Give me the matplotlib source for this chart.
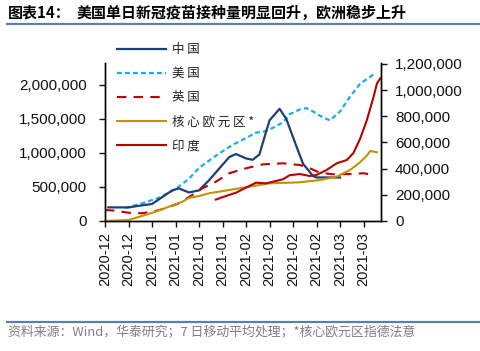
import matplotlib
matplotlib.use("Agg")
import matplotlib.pyplot as plt
import matplotlib.dates as mdates
from matplotlib.lines import Line2D
import pandas as pd

plt.rcParams['font.family'] = ['Liberation Sans', 'Noto Sans CJK SC', 'DejaVu Sans']
cjk = ['Noto Sans CJK SC', 'DejaVu Sans']

start = pd.Timestamp('2020-12-21')

# days after 2020-12-21, 7-day averages
china_day = [1, 7, 11, 14, 17, 20, 22, 25, 28, 31, 34, 37, 39, 42, 44, 46, 47, 49, 52, 54, 57, 59, 62, 63, 70]
china_val = [200000, 200000, 230000, 250000, 350000, 450000, 480000, 420000, 450000, 600000, 770000, 940000,
             985000, 920000, 900000, 980000, 1150000, 1480000, 1650000, 1500000, 1100000, 840000, 660000,
             640000, 640000]

us_day = [6, 11, 16, 21, 25, 28, 33, 38, 42, 45, 47, 50, 53, 55, 58, 60, 62, 65, 67, 70, 73, 76, 79, 80]
us_val = [190000, 260000, 340000, 470000, 620000, 780000, 960000, 1120000, 1220000, 1300000, 1310000,
          1370000, 1450000, 1570000, 1640000, 1660000, 1610000, 1520000, 1480000, 1610000, 1830000,
          2020000, 2120000, 2160000]

uk_day = [0, 3, 7, 11, 15, 18, 22, 26, 29, 33, 37, 42, 47, 53, 58, 61, 64, 68, 73, 77, 80]
uk_val = [84000, 79000, 63000, 59000, 76000, 97000, 135000, 199000, 250000, 300000, 365000, 403000,
          433000, 441000, 428000, 403000, 369000, 357000, 359000, 365000, 352000]

eu_day = [0, 7, 11, 15, 19, 23, 25, 28, 31, 37, 43, 49, 55, 58, 64, 69, 73, 76, 78, 79, 81]
eu_val = [0, 8000, 38000, 71000, 109000, 147000, 176000, 191000, 212000, 237000, 262000, 288000,
          293000, 296000, 313000, 339000, 390000, 450000, 500000, 535000, 525000]

india_day = [33, 36, 39, 42, 45, 48, 50, 53, 55, 58, 61, 63, 66, 69, 72, 74, 76, 78, 80, 81, 82]
india_val = [164000, 191000, 216000, 255000, 293000, 288000, 300000, 319000, 350000, 359000, 344000,
             352000, 390000, 441000, 466000, 520000, 630000, 772000, 950000, 1052000, 1091000]

labels = ['中国', '美国', '英国', '核心欧元区*', '印度']
colors = ['#1F3E78', '#1AAEE8', '#C00000', '#C49300', '#B80000']


def to_dates(days):
    return start + pd.to_timedelta(days, unit='D')


fig = plt.figure(figsize=(4.8, 3.51), dpi=100)
ax = fig.add_axes([105 / 480, 1 - 221 / 351, 276 / 480, 158 / 351])
ax2 = ax.twinx()

ax.plot(to_dates(us_day), us_val, color=colors[1], lw=1.6, dashes=(2.2, 1.4))
ax.plot(to_dates(china_day), china_val, color=colors[0], lw=1.6)
ax2.plot(to_dates(uk_day), uk_val, color=colors[2], lw=1.5, dashes=(4.5, 3.5))
ax2.plot(to_dates(eu_day), eu_val, color=colors[3], lw=1.5)
ax2.plot(to_dates(india_day), india_val, color=colors[4], lw=1.5)

ax.set_xlim(start, start + pd.Timedelta(days=82.2))
ax.set_ylim(0, 2.3235e6)
ax2.set_ylim(0, 1.2076e6)
ax.set_yticks([0, 500000, 1000000, 1500000, 2000000])
ax2.set_yticks([0, 200000, 400000, 600000, 800000, 1000000, 1200000])
ax.set_yticklabels(['0', '500,000', '1,000,000', '1,500,000', '2,000,000'])
ax2.set_yticklabels(['0', '200,000', '400,000', '600,000', '800,000', '1,000,000', '1,200,000'])

ticks = pd.date_range('2020-12-21', '2021-03-08', freq='7D')
ax.set_xticks(ticks)
ax.xaxis.set_major_formatter(mdates.DateFormatter('%Y-%m'))
for lab in ax.get_xticklabels():
    lab.set_rotation(90)

for a in (ax, ax2):
    a.spines['top'].set_visible(False)
    for s in a.spines.values():
        s.set_linewidth(1.0)
    a.tick_params(length=4, width=1.0, labelsize=11, colors='#111111')
ax.tick_params(axis='y', pad=9)
ax2.tick_params(axis='y', pad=6)
ax.tick_params(axis='x', labelsize=10.5, pad=4)

handles = [
    Line2D([], [], color=colors[0], lw=1.6),
    Line2D([], [], color=colors[1], lw=1.6, dashes=(2.2, 1.4)),
    Line2D([], [], color=colors[2], lw=1.5, dashes=(4.5, 3.5)),
    Line2D([], [], color=colors[3], lw=1.5),
    Line2D([], [], color=colors[4], lw=1.5),
]
spaced = [' '.join(t) for t in labels]
leg = fig.legend(handles, spaced, loc='upper left', bbox_to_anchor=(111 / 480, 1 - 37 / 351),
                 frameon=False, borderpad=0, handlelength=3.9, handletextpad=0.45, labelspacing=0.88,
                 prop={'family': cjk, 'size': 9})
for t in leg.get_texts():
    t.set_color('#222222')

fig.text(8 / 480, 1 - 13 / 351, '图表14：', family=cjk, fontsize=10.8, fontweight='bold', va='center')
fig.text(77 / 480, 1 - 13 / 351, '美国单日新冠疫苗接种量明显回升，欧洲稳步上升', family=cjk,
         fontsize=10.8, fontweight='bold', va='center')
fig.add_artist(Line2D([7 / 480, 1], [1 - 24 / 351] * 2, color='#5E7EA8', lw=1.6))
fig.add_artist(Line2D([7 / 480, 1], [1 - 321.5 / 351] * 2, color='#5E7EA8', lw=1.6))
fig.text(8 / 480, 1 - 333 / 351, '资料来源：Wind，华泰研究；7 日移动平均处理；*核心欧元区指德法意',
         family=cjk, fontsize=9.3, color='#7F7F7F', va='center')

fig.savefig('out.png', dpi=100)
